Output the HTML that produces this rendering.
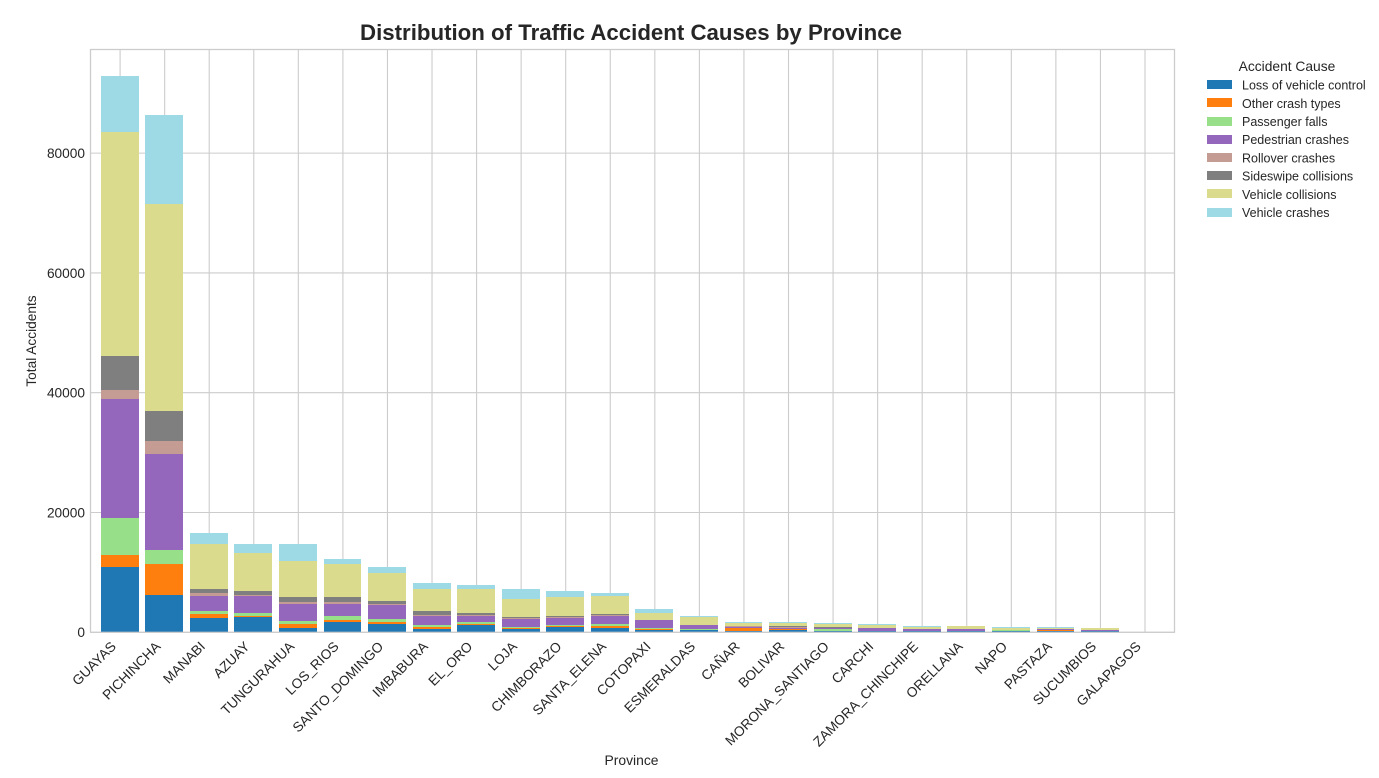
<!DOCTYPE html>
<html lang="en">
<head>
<meta charset="utf-8">
<title>Distribution of Traffic Accident Causes by Province</title>
<style>
html,body{margin:0;padding:0;background:#fff;width:1379px;height:778px;overflow:hidden}
svg{display:block;font-family:"Liberation Sans",Arial,sans-serif}
text{fill:#262626}
</style>
</head>
<body>
<svg id="chart" xmlns="http://www.w3.org/2000/svg" width="1379" height="778" viewBox="0 0 1379 778"></svg>
<script>
const provinces = ["GUAYAS","PICHINCHA","MANABI","AZUAY","TUNGURAHUA","LOS_RIOS","SANTO_DOMINGO","IMBABURA","EL_ORO","LOJA","CHIMBORAZO","SANTA_ELENA","COTOPAXI","ESMERALDAS","CAÑAR","BOLIVAR","MORONA_SANTIAGO","CARCHI","ZAMORA_CHINCHIPE","ORELLANA","NAPO","PASTAZA","SUCUMBIOS","GALAPAGOS"];
const causes = ["Loss of vehicle control","Other crash types","Passenger falls","Pedestrian crashes","Rollover crashes","Sideswipe collisions","Vehicle collisions","Vehicle crashes"];
const colors = ["#1f77b4","#ff7f0e","#98df8a","#9467bd","#c49c94","#7f7f7f","#dbdb8d","#9edae5"];
const lossOfControl = [10900,6200,2400,2500,800,1700,1400,500,1150,500,850,800,450,350,250,400,250,200,200,150,250,200,150,5];
const otherCrashTypes = [2000,5200,600,200,550,300,300,350,200,180,150,200,60,20,500,100,20,20,10,10,10,200,10,1];
const passengerFalls = [6100,2400,500,500,500,700,500,300,350,170,150,350,170,100,50,100,230,20,40,40,100,20,20,1];
const pedestrianCrashes = [19900,15900,2500,2800,2850,2000,2300,1550,1000,1350,1200,1350,1320,700,150,200,150,420,300,300,30,50,150,3];
const rolloverCrashes = [1500,2200,500,200,300,300,200,150,150,150,150,150,20,20,50,150,150,20,10,10,10,60,10,1];
const sideswipeCollisions = [5700,5000,700,700,850,850,500,650,350,150,200,150,30,30,20,100,100,30,20,20,10,20,10,1];
const vehicleCollisions = [37400,34600,7600,6300,6050,5550,4700,3700,4000,3000,3150,3000,1150,1350,480,450,550,450,350,500,350,120,300,5];
const vehicleCrashes = [9300,14800,1700,1500,2800,800,1000,1000,650,1700,1000,500,650,150,250,300,100,150,150,70,100,230,50,3];
const seriesValues = [lossOfControl,otherCrashTypes,passengerFalls,pedestrianCrashes,rolloverCrashes,sideswipeCollisions,vehicleCollisions,vehicleCrashes];
const yTicks = [0,20000,40000,60000,80000];

const SVGNS = "http://www.w3.org/2000/svg";
const svg = document.getElementById("chart");
const plot = {left:90.5, right:1174.5, top:49.5, bottom:632.3};
const yMax = 97300;
const xMin = -0.6553, xMax = 23.671;
const barWidth = 0.85;
function xScale(i){ return plot.left + (i - xMin) / (xMax - xMin) * (plot.right - plot.left); }
function yScale(v){ return plot.bottom - v / yMax * (plot.bottom - plot.top); }
function make(tag, attrs, text){
  const el = document.createElementNS(SVGNS, tag);
  for (const k in attrs) el.setAttribute(k, attrs[k]);
  if (text !== undefined) el.textContent = text;
  svg.appendChild(el);
  return el;
}

provinces.forEach(function(p, i){
  const gx = xScale(i) + 0.4;
  const g = make("line", {x1:gx, x2:gx, y1:plot.top, y2:plot.bottom, stroke:"#cccccc", "stroke-width":1.1});
  
  
});
yTicks.forEach(function(t){
  const g = make("line", {x1:plot.left, x2:plot.right, y1:yScale(t), y2:yScale(t), stroke:"#cccccc", "stroke-width":1.1});
  
  
  const lab = make("text", {x:plot.left - 5.5, y:yScale(t) + 4.9, "text-anchor":"end", "font-size":"13.7px"}, String(t));
  
  
});

provinces.forEach(function(p, i){
  let cum = 0;
  const bw = barWidth * (xScale(1) - xScale(0));
  const x0 = Math.round(xScale(i) - bw / 2);
  const x1 = Math.round(xScale(i) + bw / 2);
  seriesValues.forEach(function(vals, s){
    const v = vals[i];
    const yTop = Math.round(yScale(cum + v));
    const yBot = Math.round(yScale(cum));
    const r = make("rect", {x:x0, y:yTop, width:x1 - x0, height:yBot - yTop, fill:colors[s], "shape-rendering":"crispEdges"});
    
    
    cum += v;
  });
  const ax = xScale(i) - 2.9, ay = 647.3;
  const lab = make("text", {x:ax, y:ay, "text-anchor":"end", "font-size":"13.7px", transform:"rotate(-45 " + ax + " " + ay + ")"}, p);
  
  
});

const frame = make("rect", {x:plot.left, y:plot.top, width:plot.right - plot.left, height:plot.bottom - plot.top, fill:"none", stroke:"#cccccc", "stroke-width":1.25});



const title = make("text", {x:631, y:40, "text-anchor":"middle", "font-size":"22.25px", "font-weight":"bold"}, "Distribution of Traffic Accident Causes by Province");



const xTitle = make("text", {x:631.5, y:765, "text-anchor":"middle", "font-size":"13.89px"}, "Province");



const yTitle = make("text", {x:36, y:341, "text-anchor":"middle", "font-size":"13.7px", transform:"rotate(-90 36 341)"}, "Total Accidents");



const legendTitle = make("text", {x:1287, y:71, "text-anchor":"middle", "font-size":"13.8px"}, "Accident Cause");



causes.forEach(function(c, i){
  const yc = 84.6 + i * 18.2;
  const sw = make("rect", {x:1207, y:Math.round(yc - 4.5), width:25, height:9, fill:colors[i], "shape-rendering":"crispEdges"});
  
  
  const t = make("text", {x:1242, y:yc + 5, "font-size":"12.5px"}, c);
  
  
});
</script>
</body>
</html>
